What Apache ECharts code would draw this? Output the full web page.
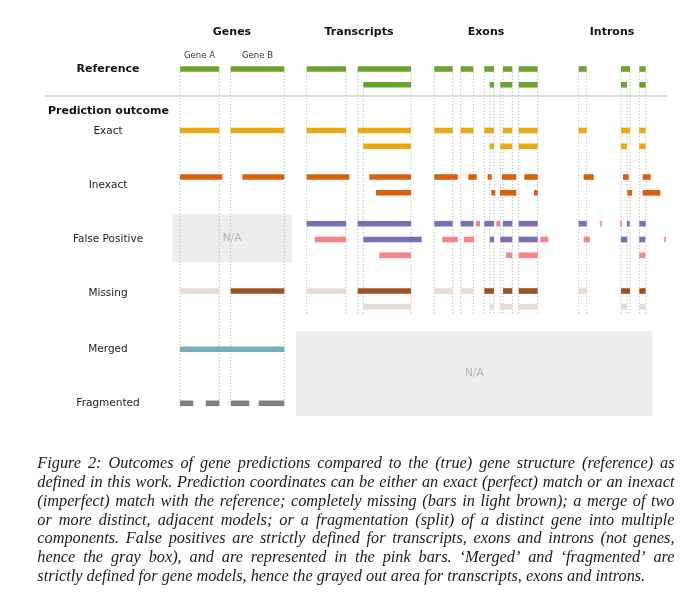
<!DOCTYPE html>
<html><head><meta charset="utf-8">
<script src="https://cdn.jsdelivr.net/npm/echarts@6/dist/echarts.min.js"></script>
<style>html,body{margin:0;padding:0;background:#fff}#c{width:680px;height:607px}</style>
</head><body><div id="c"></div>
<script>
// ---------------- DATA ----------------
// Column (feature level) headers and gene names
const panels = ['Genes', 'Transcripts', 'Exons', 'Introns'];
const geneNames = ['Gene A', 'Gene B'];
const outcomeLabels = ['Exact', 'Inexact', 'False Positive', 'Missing', 'Merged', 'Fragmented'];

// Segments: [start, end, track]  (coordinates along the drawing axis)
const referenceSegments = [
  [180,219.3,0],[230.7,284.3,0],
  [306.7,346,0],[357.7,411,0],[363.3,411,1],
  [434.3,452.7,0],[460.7,473.3,0],[484.3,494,0],[503,512.3,0],[518.7,537.7,0],
  [489.7,494,1],[500.3,512.3,1],[518.7,537.7,1],
  [578.7,586.7,0],[621,630,0],[639.3,645.7,0],
  [621,627,1],[639.3,645.7,1]
];
const exactSegments = [
  [180,219.3,0],[230.7,284.3,0],
  [306.7,346,0],[357.7,411,0],[363.3,411,1],
  [434.3,452.7,0],[460.7,473.3,0],[484.3,494,0],[503,512.3,0],[518.7,537.7,0],
  [489.7,494,1],[500.3,512.3,1],[518.7,537.7,1],
  [578.7,586.7,0],[621,630,0],[639.3,645.7,0],
  [621,627,1],[639.3,645.7,1]
];
const inexactSegments = [
  [180,222.3,0],[242.3,284.3,0],
  [306.7,349.3,0],[369.3,411,0],[376,411,1],
  [434.3,457.7,0],[468.3,476.7,0],[487.7,491.7,0],[502,516.3,0],[524.3,537.7,0],
  [491.3,495.3,1],[500,516.3,1],[534,537.7,1],
  [583.7,593.7,0],[623,628.7,0],[642.7,650.7,0],
  [627.3,632,1],[642.7,660.3,1]
];
// False-positive row: true features (purple) and false positives (pink)
const fpTrueSegments = [
  [306.7,346,0],[357.7,411,0],[363.3,421.7,1],
  [434.3,452.7,0],[460.7,473.3,0],[484.3,494,0],[503,512.3,0],[518.7,537.7,0],
  [489.7,494,1],[500.3,512.3,1],[518.7,537.7,1],
  [578.7,586.7,0],[627,629.7,0],[639.3,645.7,0],
  [621,627.3,1],[639.3,645.3,1]
];
const fpFalseSegments = [
  [314.7,346,1],[379.3,411,2],
  [476,480,0],[496.3,500.3,0],
  [442.3,457.7,1],[464,474,1],[540.3,548.3,1],
  [506,512.3,2],[518.7,537.7,2],
  [600.3,602,0],[620.3,622,0],
  [583.7,590,1],[664.3,666,1],
  [639.3,645.3,2]
];
// Missing row: features lost (light brown) and found (dark brown)
const missingLostSegments = [
  [180,219.3,0],[306.7,346,0],[434.3,452.7,0],[460.7,473.3,0],[578.7,586.7,0],
  [363.3,411,1],[489.7,494,1],[500.3,512.3,1],[518.7,537.7,1],[621,627,1],[639.3,645.7,1]
];
const missingFoundSegments = [
  [230.7,284.3,0],[357.7,411,0],[484.3,494,0],[503,512.3,0],[518.7,537.7,0],
  [621,630,0],[639.3,645.7,0]
];
const mergedSegments = [[180,284.3,0]];
const fragmentedSegments = [[180,193.3,0],[205.7,219.3,0],[231,249.3,0],[258.7,284.3,0]];

// Not-applicable areas: [x0, x1, y0, y1]
const naAreas = [[172.3,292,214.3,262.3],[296,652.7,331,415.7]];

const captionLines = [
  'Figure 2: Outcomes of gene predictions compared to the (true) gene structure (reference) as',
  'defined in this work. Prediction coordinates can be either an exact (perfect) match or an inexact',
  '(imperfect) match with the reference; completely missing (bars in light brown); a merge of two',
  'or more distinct, adjacent models; or a fragmentation (split) of a distinct gene into multiple',
  'components. False positives are strictly defined for transcripts, exons and introns (not genes,',
  'hence the gray box), and are represented in the pink bars. \u2018Merged\u2019 and \u2018fragmented\u2019 are',
  'strictly defined for gene models, hence the grayed out area for transcripts, exons and introns.'
];

// ---------------- LAYOUT ----------------
const rowY = {reference:69, exact:130.5, inexact:177, fp:223.7, missing:291, merged:349.3, fragmented:403.3};
const trackGap = 15.8;
const barH = 5.6;
const FONT = '"DejaVu Sans", sans-serif';

const chart = echarts.init(document.getElementById('c'), null, {renderer:'canvas'});

function toBars(segs, row) {
  return segs.map(s => [s[0], s[1], rowY[row] + s[2] * trackGap]);
}
function barSeries(segs, row, color, z) {
  return {
    type:'custom', coordinateSystem:'cartesian2d', z: z || 5, silent:true,
    data: toBars(segs, row),
    itemStyle:{color},
    renderItem(params, api) {
      const a = api.coord([api.value(0), api.value(2)]);
      const b = api.coord([api.value(1), api.value(2)]);
      return {type:'rect', shape:{x:a[0], y:a[1]-barH/2, width:b[0]-a[0], height:barH},
              style:{fill: api.visual('color')}};
    }
  };
}

// Guide lines derived from reference boundaries
const guideMap = {};
referenceSegments.forEach(s => {
  const y = rowY.reference + s[2] * trackGap;
  [s[0], s[1]].forEach(x => {
    if (guideMap[x] === undefined || guideMap[x] > y) guideMap[x] = y;
  });
});
const geneLimit = 300;
const guideData = Object.keys(guideMap).map(k => {
  const x = +k;
  return [x, guideMap[k], x < geneLimit ? 406 : 314];
});

const series = [
  {
    type:'custom', coordinateSystem:'cartesian2d', z:1, silent:true,
    data: naAreas,
    renderItem(params, api) {
      const a = api.coord([api.value(0), api.value(2)]);
      const b = api.coord([api.value(1), api.value(3)]);
      return {type:'group', children:[
        {type:'rect', shape:{x:a[0], y:a[1], width:b[0]-a[0], height:b[1]-a[1]}, style:{fill:'#ededed'}},
        {type:'text', x:(a[0]+b[0])/2, y:(a[1]+b[1])/2,
         style:{text:'N/A', fill:'#b3b3b3', font:'10.5px ' + FONT, align:'center', verticalAlign:'middle'}}
      ]};
    }
  },
  {
    type:'custom', coordinateSystem:'cartesian2d', z:2, silent:true,
    data: guideData,
    renderItem(params, api) {
      const a = api.coord([api.value(0), api.value(1)]);
      const b = api.coord([api.value(0), api.value(2)]);
      return {type:'line', shape:{x1:a[0], y1:a[1], x2:b[0], y2:b[1]},
              style:{stroke:'#b5b5b5', lineWidth:1, lineDash:[1.2, 2]}};
    }
  },
  barSeries(referenceSegments, 'reference', '#6ba42c'),
  barSeries(exactSegments, 'exact', '#e5ab14'),
  barSeries(inexactSegments, 'inexact', '#d8600f'),
  barSeries(fpTrueSegments, 'fp', '#7570b3'),
  barSeries(fpFalseSegments, 'fp', '#f98282'),
  barSeries(missingLostSegments, 'missing', '#eadad1'),
  barSeries(missingFoundSegments, 'missing', '#9a5228'),
  barSeries(mergedSegments, 'merged', '#73b1b9'),
  barSeries(fragmentedSegments, 'fragmented', '#7f7f7f')
];

// ---------------- TEXT ----------------
const graphics = [];
const headerX = [232, 359, 486, 612];
panels.forEach((p, i) => graphics.push({type:'text', x:headerX[i], y:32,
  style:{text:p, font:'bold 11px ' + FONT, fill:'#111', align:'center', verticalAlign:'middle'}}));
const geneX = [199.5, 257.5];
geneNames.forEach((g, i) => graphics.push({type:'text', x:geneX[i], y:56,
  style:{text:g, font:'8.5px ' + FONT, fill:'#333', align:'center', verticalAlign:'middle'}}));
graphics.push({type:'text', x:108, y:69, style:{text:'Reference', font:'bold 11px ' + FONT, fill:'#111', align:'center', verticalAlign:'middle'}});
graphics.push({type:'text', x:108.5, y:111, style:{text:'Prediction outcome', font:'bold 11px ' + FONT, fill:'#111', align:'center', verticalAlign:'middle'}});
graphics.push({type:'line', shape:{x1:44, y1:96, x2:668, y2:96}, style:{stroke:'#cfcfcf', lineWidth:1.5}});
const labelY = [131, 185, 239, 293, 349, 403];
outcomeLabels.forEach((l, i) => graphics.push({type:'text', x:108, y:labelY[i],
  style:{text:l, font:'10.5px ' + FONT, fill:'#222', align:'center', verticalAlign:'middle'}}));

// Caption, justified
const capFont = 'italic 16.3px "Liberation Serif", serif';
const mctx = document.createElement('canvas').getContext('2d');
mctx.font = capFont;
const capLeft = 37.3, capRight = 674.5, capTop = 464, capStep = 18.8;
captionLines.forEach((line, i) => {
  const y = capTop + i * capStep;
  if (i === captionLines.length - 1) {
    graphics.push({type:'text', x:capLeft, y, style:{text:line, font:capFont, fill:'#1a1a1a', align:'left', verticalAlign:'middle'}});
    return;
  }
  const words = line.split(' ');
  const widths = words.map(w => mctx.measureText(w).width);
  const total = widths.reduce((a, b) => a + b, 0);
  const gap = (capRight - capLeft - total) / (words.length - 1);
  let x = capLeft;
  words.forEach((w, j) => {
    graphics.push({type:'text', x, y, style:{text:w, font:capFont, fill:'#1a1a1a', align:'left', verticalAlign:'middle'}});
    x += widths[j] + gap;
  });
});

chart.setOption({
  animation:false,
  backgroundColor:'#fff',
  grid:{left:0, right:0, top:0, bottom:0},
  xAxis:{type:'value', min:0, max:680, show:false},
  yAxis:{type:'value', min:0, max:607, inverse:true, show:false},
  series,
  graphic:{elements:graphics}
});
</script></body></html>
